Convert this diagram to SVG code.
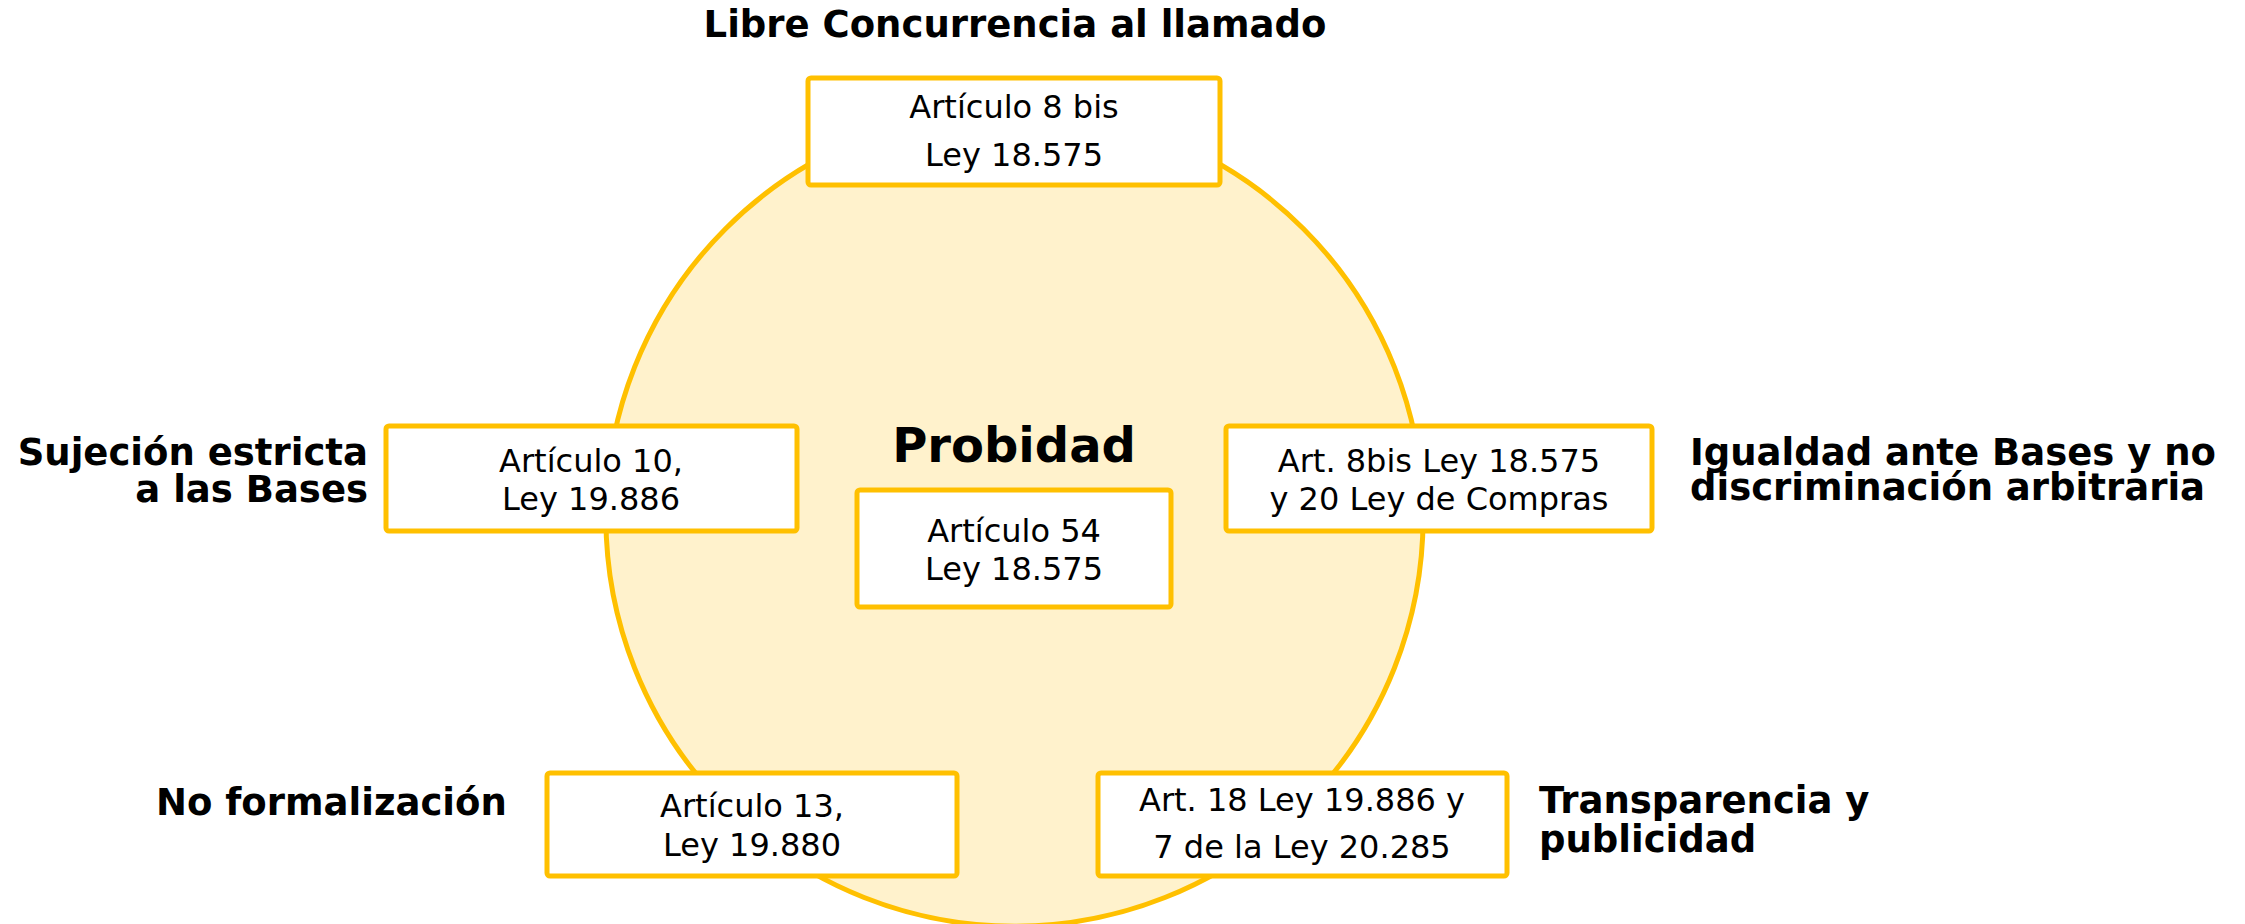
<svg xmlns="http://www.w3.org/2000/svg" width="2245" height="924" viewBox="0 0 2245 924">
<style>
.box{fill:#FFFFFF;stroke:#FFC000;stroke-width:5}
.t{font-family:"DejaVu Sans",Verdana,sans-serif;font-size:32px;fill:#000;text-anchor:middle}
.lbl{font-family:"DejaVu Sans",Verdana,sans-serif;font-size:37px;font-weight:bold;fill:#000}
</style>
<rect width="2245" height="924" fill="#FFFFFF"/>
<g id="circle">
<circle cx="1014.5" cy="517.6" r="408.6" fill="#FFF2CC" stroke="#FFC000" stroke-width="5"/>
<text x="1014" y="462" font-family="DejaVu Sans, Verdana, sans-serif" font-size="48" font-weight="bold" text-anchor="middle">Probidad</text>
</g>
<g id="connectors"></g>
<g id="top">
<rect class="box" x="808" y="78" width="412" height="107" rx="3"/>
<text class="t" x="1014" y="118">Artículo 8 bis</text>
<text class="t" x="1014" y="166">Ley 18.575</text>
<text class="lbl" x="1015" y="37" text-anchor="middle">Libre Concurrencia al llamado</text>
</g>
<g id="left">
<rect class="box" x="386" y="426" width="411" height="105" rx="3"/>
<text class="t" x="591" y="472">Artículo 10,</text>
<text class="t" x="591" y="510">Ley 19.886</text>
<text class="lbl" x="368" y="465" text-anchor="end">Sujeción estricta</text>
<text class="lbl" x="368" y="502" text-anchor="end">a las Bases</text>
</g>
<g id="right">
<rect class="box" x="1226" y="426" width="426" height="105" rx="3"/>
<text class="t" x="1439" y="472">Art. 8bis Ley 18.575</text>
<text class="t" x="1439" y="510">y 20 Ley de Compras</text>
<text class="lbl" x="1690" y="465">Igualdad ante Bases y no</text>
<text class="lbl" x="1690" y="500">discriminación arbitraria</text>
</g>
<g id="center">
<rect class="box" x="857" y="490" width="314" height="117" rx="3"/>
<text class="t" x="1014" y="542">Artículo 54</text>
<text class="t" x="1014" y="580">Ley 18.575</text>
</g>
<g id="bottomleft">
<rect class="box" x="547" y="773" width="410" height="103" rx="3"/>
<text class="t" x="752" y="817">Artículo 13,</text>
<text class="t" x="752" y="856">Ley 19.880</text>
<text class="lbl" x="156" y="815">No formalización</text>
</g>
<g id="bottomright">
<rect class="box" x="1098" y="773" width="409" height="103" rx="3"/>
<text class="t" x="1302" y="811">Art. 18 Ley 19.886 y</text>
<text class="t" x="1302" y="858">7 de la Ley 20.285</text>
<text class="lbl" x="1539" y="813">Transparencia y</text>
<text class="lbl" x="1539" y="852">publicidad</text>
</g>
</svg>
